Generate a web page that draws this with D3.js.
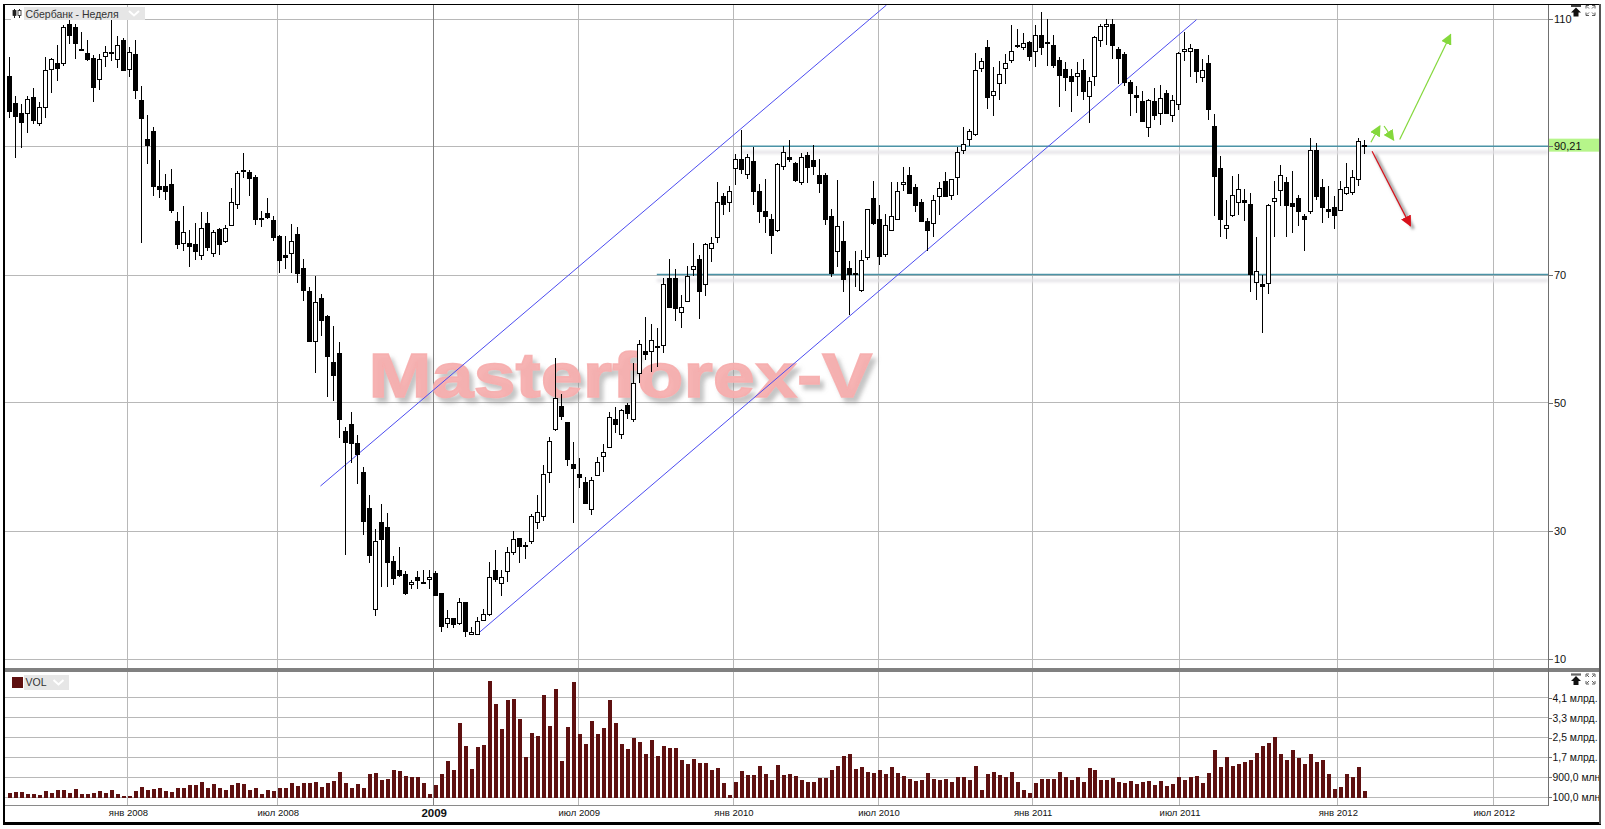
<!DOCTYPE html>
<html lang="ru">
<head>
<meta charset="utf-8">
<title>Сбербанк - Неделя</title>
<script src="https://cdn.jsdelivr.net/npm/d3@7"></script>
<style>
html,body{margin:0;padding:0;background:#fff;}
svg{display:block;font-family:"Liberation Sans",Arial,sans-serif;}
</style>
</head>
<body>
<div id="chart"></div>
<script>
const opens=[101.0,96.8,95.3,95.2,97.8,93.6,96.1,102.1,103.0,103.1,
109.2,108.6,105.3,104.6,103.9,100.6,104.1,104.8,103.6,106.6,
102.1,104.4,97.2,91.1,92.5,83.8,83.8,84.1,78.3,74.9,
74.9,74.7,73.0,78.0,73.4,77.1,75.2,77.8,81.0,86.1,
86.0,85.2,78.9,79.6,78.5,76.0,73.0,73.3,76.3,71.0,
67.5,59.6,66.3,63.5,56.3,57.7,45.5,46.6,43.6,39.2,
33.5,17.8,31.4,30.6,25.2,23.9,23.2,21.6,22.7,22.0,
22.4,23.3,20.2,15.5,16.3,15.6,18.8,13.9,13.8,16.0,
16.9,23.9,21.8,23.6,26.7,28.8,27.5,28.3,31.3,32.2,
39.1,45.9,49.4,46.9,40.4,38.9,37.5,33.3,38.6,41.6,
43.1,47.5,45.1,49.6,47.5,54.6,58.0,58.0,58.9,59.0,
69.4,69.4,64.1,65.9,70.9,72.4,68.5,74.1,75.8,82.3,
81.3,86.6,88.0,85.7,87.7,83.0,80.0,78.6,77.0,87.0,
88.3,87.5,84.5,88.6,87.9,85.6,85.5,79.2,73.6,75.3,
71.0,70.3,67.6,72.7,82.0,78.6,73.2,77.0,78.6,84.1,
85.5,83.6,81.3,78.4,78.0,82.2,84.6,82.5,85.3,89.4,
91.1,92.0,102.3,105.6,98.1,99.9,102.3,103.5,105.8,105.6,
106.3,105.0,107.4,106.1,105.8,103.5,102.1,101.0,101.0,101.9,
97.9,101.0,106.6,108.9,109.1,105.3,104.4,100.1,98.0,97.1,
93.0,97.1,95.2,98.3,94.9,96.7,105.0,104.9,105.2,100.8,
103.1,93.2,86.7,77.2,79.3,81.4,81.6,81.0,68.9,68.5,
68.7,81.5,83.2,84.5,81.2,82.0,79.1,80.0,89.5,83.6,
80.2,80.5,80.1,82.7,82.9,85.0,90.3];
const closes=[95.6,94.8,93.9,97.5,94.2,96.1,101.9,103.6,102.3,108.6,
107.5,106.1,105.2,103.6,99.3,103.7,104.8,104.7,105.8,102.0,
104.7,98.9,94.4,90.3,83.9,83.4,83.0,80.1,74.8,76.7,
74.5,73.7,77.3,74.3,76.6,74.8,77.2,81.4,85.8,86.4,
85.1,78.6,78.6,79.0,75.9,72.3,72.8,75.3,70.3,67.6,
59.6,65.7,62.9,57.3,54.3,47.5,43.9,43.7,42.0,31.5,
26.1,28.3,28.7,25.1,22.6,23.1,20.3,22.0,22.2,21.9,
22.7,20.0,15.1,16.4,15.4,18.9,14.3,14.2,15.8,16.9,
22.8,22.5,22.8,26.7,28.7,27.6,27.8,32.2,32.9,38.9,
44.0,50.7,47.9,41.1,39.7,38.4,34.3,37.9,40.7,42.3,
47.8,46.7,48.8,48.3,53.1,59.2,57.6,59.7,58.6,68.5,
65.0,64.7,65.0,69.8,71.3,67.4,74.7,75.0,81.3,81.0,
83.0,88.1,86.5,88.4,83.1,80.0,79.2,76.2,87.2,89.1,
88.1,84.7,88.3,86.8,87.0,84.3,78.6,70.3,77.5,69.3,
70.1,70.2,72.2,80.3,78.0,72.9,77.7,79.1,83.0,84.5,
82.8,80.8,78.4,77.0,81.7,83.5,82.2,84.9,89.1,90.4,
92.5,101.9,103.3,97.8,98.7,101.4,103.1,105.0,105.7,106.2,
104.2,107.4,105.6,106.4,102.8,101.1,100.9,100.3,101.5,98.7,
100.2,107.1,108.8,109.2,105.9,103.9,100.0,98.3,97.8,94.0,
97.2,95.0,97.6,95.3,97.2,104.6,105.3,105.4,101.8,101.9,
95.9,85.4,78.7,77.8,82.5,83.3,81.3,70.1,70.5,68.2,
80.8,82.0,85.5,80.9,80.7,80.0,78.6,89.5,82.3,80.6,
80.0,79.3,83.3,83.6,85.2,90.8,90.21];
const highs=[104.0,97.9,96.6,97.9,99.1,97.0,104.0,103.9,105.9,109.0,
109.8,109.1,107.9,106.6,104.3,104.5,105.7,109.7,107.2,106.9,
105.6,106.7,99.5,94.9,93.0,87.9,85.7,86.5,79.8,80.7,
77.0,78.1,79.8,79.8,77.0,77.2,77.7,83.5,86.1,89.0,
86.3,85.5,79.9,82.0,79.1,76.2,76.0,77.9,77.5,72.5,
68.0,69.8,67.0,63.6,61.9,59.4,46.2,48.5,45.0,39.9,
35.5,30.2,34.2,32.7,26.0,27.4,23.6,22.3,23.7,23.9,
23.8,23.6,20.2,17.6,16.4,19.5,18.9,14.9,16.5,17.7,
25.1,26.9,23.8,27.5,29.9,28.9,28.2,32.6,35.5,40.2,
44.6,56.9,51.4,46.9,43.8,41.3,38.3,38.4,41.5,43.5,
48.5,49.3,49.0,50.0,56.1,59.7,63.3,62.3,61.7,69.4,
72.4,70.9,66.8,71.3,74.9,73.0,75.0,75.8,84.5,82.7,
83.8,88.8,92.6,88.9,89.9,84.1,84.9,79.4,87.5,90.1,
91.0,87.6,89.0,89.2,90.3,88.0,85.9,80.2,84.8,78.3,
72.1,73.7,73.8,80.3,84.6,80.9,79.5,84.4,84.4,86.8,
86.8,84.2,81.8,78.8,82.4,84.5,86.0,85.0,90.0,93.0,
92.8,104.6,103.8,106.6,102.5,103.3,104.4,109.0,108.4,107.8,
106.5,109.0,111.0,110.0,107.4,104.0,103.2,102.1,103.2,103.6,
100.8,107.3,109.2,109.9,109.9,105.5,104.7,100.4,99.5,98.6,
97.4,99.1,99.6,98.9,98.0,104.8,107.9,106.0,105.2,103.6,
104.3,95.1,88.5,81.6,85.4,85.7,83.3,82.7,75.8,70.0,
81.0,84.6,87.1,85.2,86.2,82.5,79.4,91.3,90.6,84.9,
83.8,82.2,84.6,87.5,86.3,91.3,91.0];
const lows=[94.4,88.2,89.7,92.1,93.5,93.2,94.5,98.4,100.3,102.6,
106.0,103.7,105.0,103.3,96.9,98.8,102.5,103.4,102.2,101.8,
100.8,97.4,75.0,87.2,82.2,82.0,81.6,79.6,74.0,73.7,
71.1,72.2,72.3,73.7,72.8,73.1,74.9,77.8,80.3,85.1,
82.3,77.8,77.5,78.6,75.3,70.3,70.8,70.3,68.6,65.9,
59.5,54.6,60.4,50.9,50.3,44.5,26.2,40.6,37.2,29.3,
25.0,16.7,21.1,21.1,21.5,22.8,20.0,20.8,20.8,21.6,
20.8,19.7,14.1,14.7,14.7,15.2,13.4,13.8,13.8,15.9,
16.7,22.0,19.8,22.0,26.2,25.0,25.5,27.9,30.3,31.5,
37.5,45.6,47.2,40.1,31.1,36.6,34.1,32.5,38.6,39.2,
43.1,45.3,44.3,47.4,47.0,53.1,56.6,54.8,55.6,57.7,
64.7,62.8,61.7,65.7,69.7,63.1,66.7,72.0,75.0,79.3,
79.8,84.0,85.7,84.9,80.9,78.1,76.5,73.2,76.7,86.4,
87.6,84.5,84.0,84.3,85.6,82.8,77.7,69.6,71.1,67.2,
63.7,68.1,67.3,72.2,77.7,71.5,72.8,77.0,78.6,83.0,
82.7,79.8,78.2,73.6,75.8,79.3,82.1,81.6,82.4,88.8,
90.1,91.7,101.7,95.9,94.8,97.3,99.7,103.0,105.4,105.1,
103.3,102.5,104.3,102.6,102.2,96.2,98.7,95.4,97.9,97.3,
93.7,99.5,105.6,105.9,103.7,99.8,99.5,94.7,95.2,93.9,
91.5,94.2,93.3,95.2,93.9,95.7,103.3,100.9,99.9,100.1,
94.2,79.1,75.9,75.5,79.0,79.3,78.3,67.2,66.0,60.9,
67.0,75.9,80.7,75.9,76.5,77.6,73.7,79.5,81.6,78.1,
78.9,77.1,80.1,82.5,82.5,83.9,88.8];
// weekly volume, millions
const volumes=[250,290,270,210,210,150,310,250,350,350,
250,400,190,190,260,310,260,350,220,130,
130,310,490,380,400,440,340,290,450,450,
580,560,700,460,600,440,370,580,660,600,
370,460,190,370,340,450,450,640,530,640,
640,690,500,640,720,1080,660,450,610,450,
1010,1040,760,810,1160,1120,920,890,890,650,
190,570,1010,1540,1170,3050,2130,1230,2100,2170,
4760,3820,2810,4000,4030,3210,1710,2650,2540,4190,
2950,4450,1550,2890,4730,2620,2230,3150,2620,2850,
3980,3050,2220,2010,2450,2290,1820,2370,1720,2150,
2050,2060,1560,1420,1600,1460,1460,1160,1240,660,
180,680,1120,960,960,1330,1010,770,1370,970,
1010,930,780,700,690,850,850,1190,1320,1720,
1800,1210,1280,1090,1040,1160,1030,1280,1050,930,
800,730,770,1040,810,770,810,690,890,890,
770,1320,370,1030,1080,970,910,1110,680,350,
250,660,810,800,820,1080,910,760,910,680,
1250,1160,760,780,840,690,640,740,610,690,
730,570,740,520,610,880,770,910,950,640,
1040,1980,1280,1680,1330,1400,1500,1560,1860,2140,
2260,2490,1800,1590,1980,1660,1400,1820,1480,1560,
1010,420,480,1000,910,1310,330];

const priceTicks=[10,30,50,70,110];
const volTicks=[100,900,1700,2500,3300,4100];
const volTickLabels=["100,0 млн","900,0 млн","1,7 млрд.","2,5 млрд.","3,3 млрд.","4,1 млрд."];
const dateTicks=[19.7,44.7,70.7,94.9,120.7,144.9,170.6,195.1,221.5,247.5];
const dateLabels=["янв 2008","июл 2008","2009","июл 2009","янв 2010","июл 2010","янв 2011","июл 2011","янв 2012","июл 2012"];
const levelLines=[{from:122,p:90.05},{from:108,p:70.0}];
const channelLines=[[51.9,36.95,146.3,112.1],[78.05,13.8,198.0,109.8]];
const greenArrows=[[227.1,90.66,228.6,93.2],[229.3,93.2,230.9,91.0],[231.9,91.1,240.4,107.5]];
const redArrows=[[227.3,89.25,233.7,77.6]];
const lastPrice=90.21;
const titleText="Сбербанк - Неделя";
const volName="VOL";
const watermarkText="Masterforex-V";

const W=1605,H=829,L=5,R=1548,TOP=5,AX=805;
const x=d3.scaleLinear().domain([0,226]).range([9.3,1364.3]);
const y=d3.scaleLinear().domain([10,110]).range([658.5,18.5]);
const yVol=d3.scaleLinear().domain([100,4100]).range([796.7,697.3]);
const px=v=>Math.round(v)+0.5;
const candles=opens.map((o,i)=>({i,o,h:highs[i],l:lows[i],c:closes[i],v:volumes[i]}));

const svg=d3.select("#chart").append("svg").attr("width",W).attr("height",H).attr("viewBox",`0 0 ${W} ${H}`);
const defs=svg.append("defs");
defs.append("filter").attr("id","blur2").attr("x","-5%").attr("y","-300%").attr("width","110%").attr("height","700%")
  .append("feGaussianBlur").attr("stdDeviation",1.5);
defs.append("filter").attr("id","blurW").attr("x","-30%").attr("y","-20%").attr("width","160%").attr("height","140%")
  .append("feGaussianBlur").attr("stdDeviation",1.8);
defs.append("filter").attr("id","wmShadow").attr("x","-5%").attr("y","-20%").attr("width","110%").attr("height","150%")
  .append("feDropShadow").attr("dx",4).attr("dy",5).attr("stdDeviation",2).attr("flood-color","#8c8c8c").attr("flood-opacity",0.55);
const marker=(id,col)=>defs.append("marker").attr("id",id).attr("viewBox","0 0 10 10").attr("refX",9).attr("refY",5)
  .attr("markerWidth",11).attr("markerHeight",11).attr("markerUnits","userSpaceOnUse").attr("orient","auto")
  .append("path").attr("d","M0,0L10,5L0,10Z").attr("fill",col);
marker("ag","#84d83c");marker("ar","#d8101a");

svg.append("rect").attr("width",W).attr("height",H).attr("fill","#fff");

// grid
const grid=svg.append("g").attr("shape-rendering","crispEdges").attr("stroke-width",1);
grid.selectAll(".hp").data(priceTicks.concat([90])).join("line").attr("x1",L).attr("x2",R)
  .attr("y1",d=>px(y(d))).attr("y2",d=>px(y(d))).attr("stroke","#b8b8b8");
grid.selectAll(".hv").data(volTicks).join("line").attr("x1",L).attr("x2",R)
  .attr("y1",d=>px(yVol(d))).attr("y2",d=>px(yVol(d))).attr("stroke","#b8b8b8");
grid.selectAll(".vg").data(dateTicks).join("line").attr("x1",d=>px(x(d))).attr("x2",d=>px(x(d)))
  .attr("y1",TOP).attr("y2",AX).attr("stroke",(d,i)=>dateLabels[i]==="2009"?"#808080":"#b8b8b8");

// watermark: one text with a soft drop shadow, fattened by a stroke of its own colour
svg.append("text").attr("x",368.5).attr("y",397).attr("font-weight","bold").attr("font-size",63)
  .attr("textLength",504).attr("lengthAdjust","spacingAndGlyphs")
  .attr("fill","#f6aeae").attr("stroke","#f6aeae").attr("stroke-width",1.4).attr("fill-opacity",0.92).attr("stroke-opacity",0.92)
  .attr("filter","url(#wmShadow)").text(watermarkText);

// horizontal level lines + shadows
const lv=svg.append("g");
lv.selectAll("rect").data(levelLines).join("rect").attr("x",d=>x(d.from)).attr("width",d=>R-x(d.from))
  .attr("y",d=>y(d.p)+4.5).attr("height",3).attr("fill","#e2e1e5").attr("filter","url(#blur2)");
lv.selectAll("line").data(levelLines).join("line").attr("x1",d=>x(d.from)).attr("x2",R)
  .attr("y1",d=>y(d.p)).attr("y2",d=>y(d.p)).attr("stroke","#4b93a6").attr("stroke-width",1.4);

// channel
svg.append("g").selectAll("line").data(channelLines).join("line")
  .attr("x1",d=>x(d[0])).attr("y1",d=>y(d[1])).attr("x2",d=>x(d[2])).attr("y2",d=>y(d[3]))
  .attr("stroke","#4c4cf0").attr("stroke-width",1);

// candles
const cg=svg.append("g").attr("shape-rendering","crispEdges");
const cs=cg.selectAll("g").data(candles).join("g");
cs.append("line").attr("x1",d=>px(x(d.i))).attr("x2",d=>px(x(d.i))).attr("y1",d=>y(d.h)).attr("y2",d=>y(d.l)).attr("stroke","#000");
cs.append("rect").attr("x",d=>px(x(d.i))-2).attr("width",4)
  .attr("y",d=>Math.round(y(Math.max(d.o,d.c)))+0.5)
  .attr("height",d=>Math.max(1,Math.round(y(Math.min(d.o,d.c)))-Math.round(y(Math.max(d.o,d.c)))))
  .attr("fill",d=>d.c>=d.o?"#fff":"#000").attr("stroke","#000");

// arrows
const ar=svg.append("g");
ar.selectAll(".sh").data(redArrows).join("line").attr("x1",d=>x(d[0])+3).attr("y1",d=>y(d[1])+3).attr("x2",d=>x(d[2])+3).attr("y2",d=>y(d[3])+3)
  .attr("stroke","#888").attr("stroke-width",2.5).attr("filter","url(#blurW)");
ar.selectAll(".g").data(greenArrows).join("line").attr("x1",d=>x(d[0])).attr("y1",d=>y(d[1])).attr("x2",d=>x(d[2])).attr("y2",d=>y(d[3]))
  .attr("stroke","#84d83c").attr("stroke-width",1.2).attr("marker-end","url(#ag)");
ar.selectAll(".r").data(redArrows).join("line").attr("x1",d=>x(d[0])).attr("y1",d=>y(d[1])).attr("x2",d=>x(d[2])).attr("y2",d=>y(d[3]))
  .attr("stroke","#d8101a").attr("stroke-width",1.2).attr("marker-end","url(#ar)");

// volume bars
svg.append("g").attr("shape-rendering","crispEdges").selectAll("rect").data(candles).join("rect")
  .attr("x",d=>px(x(d.i))-1.5).attr("width",4)
  .attr("y",d=>yVol(d.v)).attr("height",d=>yVol(30)-yVol(d.v)).attr("fill","#5e1010");

// axis frame
const fr=svg.append("g").attr("shape-rendering","crispEdges");
fr.append("rect").attr("x",4).attr("y",668).attr("width",1596).attr("height",3.5).attr("fill","#808080");
fr.append("line").attr("x1",L).attr("x2",R).attr("y1",AX+.5).attr("y2",AX+.5).attr("stroke","#8a8a8a");
fr.append("line").attr("x1",R+.5).attr("x2",R+.5).attr("y1",TOP).attr("y2",AX+.5).attr("stroke","#707070");

// last price label
svg.append("rect").attr("x",R+1).attr("y",y(lastPrice)-6.5).attr("width",50).attr("height",13).attr("fill","#b6f58a");

// axes
const styleAxis=g=>{g.select(".domain").remove();g.selectAll("line").attr("stroke","#707070").attr("shape-rendering","crispEdges");
  g.selectAll("text").attr("fill","#111").attr("font-family","'Liberation Sans',Arial,sans-serif");};
svg.append("g").attr("transform",`translate(${R+.5},0.5)`)
  .call(d3.axisRight(y).tickValues(priceTicks.concat([lastPrice])).tickSize(4).tickPadding(1.5)
    .tickFormat(d=>d===lastPrice?"90,21":String(d)))
  .attr("font-size",11).call(styleAxis);
svg.append("g").attr("transform",`translate(${R+.5},0.5)`)
  .call(d3.axisRight(yVol).tickValues(volTicks).tickSize(3).tickPadding(1)
    .tickFormat((d,i)=>volTickLabels[i]))
  .attr("font-size",10.4).call(styleAxis);
const xa=svg.append("g").attr("transform",`translate(0.5,${AX})`)
  .call(d3.axisBottom(x).tickValues(dateTicks).tickSize(0).tickPadding(4.5)
    .tickFormat((d,i)=>dateLabels[i]))
  .attr("font-size",9.5).call(styleAxis);
xa.selectAll("text").filter((d,i)=>dateLabels[i]==="2009").attr("font-weight","bold").attr("font-size",11.5).attr("dy","0.62em");

// title legend
const leg=svg.append("g");
leg.append("rect").attr("x",11).attr("y",7).attr("width",134).attr("height",13).attr("fill","#e6e6e6");
leg.append("rect").attr("x",11).attr("y",7).attr("width",13).attr("height",13).attr("fill","#fff");
[14.5,19.5].forEach((cx,k)=>{
  leg.append("line").attr("x1",cx).attr("x2",cx).attr("y1",9).attr("y2",18).attr("stroke","#222");
  leg.append("rect").attr("x",cx-1.5).attr("y",10.5).attr("width",3).attr("height",5).attr("fill",k?"#fff":"#222").attr("stroke","#222").attr("stroke-width",.8);
});
leg.append("text").attr("x",25.5).attr("y",17.5).attr("font-size",10.5).attr("fill","#333").text(titleText);
leg.append("path").attr("d","M129,11L134,15.5L139,11").attr("fill","none").attr("stroke","#fff").attr("stroke-width",2);

const leg2=svg.append("g");
leg2.append("rect").attr("x",10).attr("y",675).attr("width",59).attr("height",15).attr("fill","#e6e6e6");
leg2.append("rect").attr("x",10).attr("y",675).attr("width",14).attr("height",15).attr("fill","#fff");
leg2.append("rect").attr("x",12).attr("y",677).attr("width",11).attr("height",11).attr("fill","#5e1010");
leg2.append("text").attr("x",25.5).attr("y",686).attr("font-size",10.5).attr("fill","#333").text(volName);
leg2.append("path").attr("d","M53.5,680L58.5,684.5L63.5,680").attr("fill","none").attr("stroke","#fff").attr("stroke-width",2);

// panel icons
[10.5,679].forEach(cy=>{
  const ic=svg.append("g").attr("transform",`translate(0,${cy})`);
  ic.append("path").attr("d","M1571,-5H1581M1571,-4H1581").attr("stroke","#111").attr("stroke-width",.8);
  ic.append("path").attr("d","M1576,-3L1581,2H1578.5V6H1573.5V2H1571Z").attr("fill","#111");
  ic.append("path").attr("d","M1586,-5h3M1586,-5v3M1595,-5h-3M1595,-5v3M1586,5h3M1586,5v-3M1595,5h-3M1595,5v-3M1587,-4l2,2M1594,-4l-2,2M1587,4l2,-2M1594,4l-2,-2")
    .attr("stroke","#333").attr("stroke-width",.8).attr("fill","none");
});

// outer frame
const of=svg.append("g").attr("shape-rendering","crispEdges");
of.append("rect").attr("x",3).attr("y",4).attr("width",1.6).attr("height",820).attr("fill","#000");
of.append("rect").attr("x",3).attr("y",4).attr("width",1598).attr("height",1).attr("fill","#000");
of.append("rect").attr("x",3).attr("y",822).attr("width",1598).attr("height",2.5).attr("fill","#000");
of.append("rect").attr("x",1599).attr("y",4).attr("width",2).attr("height",820).attr("fill","#555");
</script>
</body>
</html>
